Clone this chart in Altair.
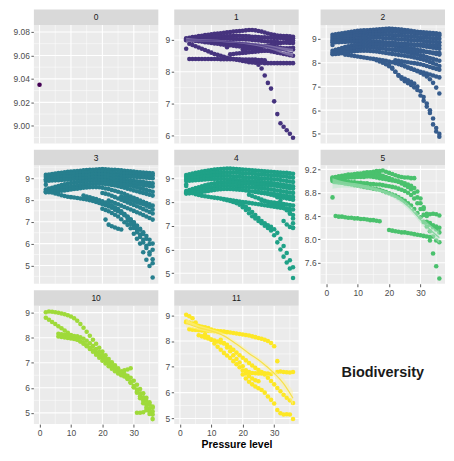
import altair as alt
import pandas as pd

# ---------------- categories / colours ----------------
PANEL_KEYS = ["0", "1", "2", "3", "4", "5", "10", "11"]
PANEL_COLORS = ["#440154", "#46337E", "#365C8D", "#277F8E", "#1FA187", "#4AC16D", "#9FDA3A", "#FDE725"]
RIBBON_COLORS = {"1": "#B1A7CB", "5": "#B9E6C7", "11": "#FCF2A6"}
SMOOTH_COLORS = {"1": "#5A4890", "5": "#86D6A0", "11": "#F7E14A"}

X_TICKS = [0, 10, 20, 30]
X_MINOR = [5, 15, 25, 35]
X_RANGE = [-1.8, 37.8]
X_TITLE = "Pressure level"
SIDE_LABEL = "Biodiversity"

Y_DOMAINS = {"0": [8.985, 9.086], "1": [5.75, 9.47], "2": [4.6, 9.59], "3": [4.16, 9.59],
             "4": [4.56, 9.54], "5": [7.24, 9.27], "10": [4.55, 9.28], "11": [4.78, 9.37]}
Y_TICKS = {"0": [9.00, 9.02, 9.04, 9.06, 9.08], "1": [6, 7, 8, 9], "2": [5, 6, 7, 8, 9],
           "3": [5, 6, 7, 8, 9], "4": [5, 6, 7, 8, 9], "5": [7.6, 8.0, 8.4, 8.8, 9.2],
           "10": [5, 6, 7, 8, 9], "11": [5, 6, 7, 8, 9]}
Y_MINOR = {"0": [8.99, 9.01, 9.03, 9.05, 9.07], "1": [6.5, 7.5, 8.5], "2": [5.5, 6.5, 7.5, 8.5, 9.5],
           "3": [4.5, 5.5, 6.5, 7.5, 8.5, 9.5], "4": [5.5, 6.5, 7.5, 8.5, 9.5],
           "5": [7.4, 7.8, 8.2, 8.6, 9.0], "10": [5.5, 6.5, 7.5, 8.5], "11": [5.5, 6.5, 7.5, 8.5]}
Y_FORMATS = {"0": ".2f", "5": ".1f"}

# ---------------- data: trajectories (start x, values at x, x+1, ...) ----------------
P0_LINES = []
P0_POINTS = [(0, 9.035)]

P1_LINES = [
    (2, [9.05, 9.07, 9.09, 9.10, 9.12, 9.13, 9.15, 9.16, 9.18, 9.19, 9.20, 9.21, 9.22, 9.24, 9.25, 9.26, 9.27, 9.28, 9.29, 9.30, 9.31, 9.31, 9.30, 9.28, 9.26, 9.23, 9.20, 9.18, 9.16, 9.14, 9.13, 9.12, 9.12, 9.11, 9.10]),
    (2, [9.02, 9.03, 9.04, 9.05, 9.06, 9.06, 9.07, 9.08, 9.08, 9.09, 9.10, 9.10, 9.11, 9.12, 9.12, 9.13, 9.13, 9.13, 9.12, 9.12, 9.11, 9.10, 9.10, 9.09, 9.08, 9.08, 9.07, 9.07, 9.06, 9.06, 9.06, 9.05, 9.05, 9.05, 9.05]),
    (2, [8.99, 8.99, 9.00, 9.00, 9.00, 9.01, 9.01, 9.01, 9.02, 9.02, 9.02, 9.02, 9.03, 9.03, 9.03, 9.03, 9.03, 9.02, 9.02, 9.01, 9.01, 9.00, 8.99, 8.98, 8.97, 8.96, 8.95, 8.95, 8.94, 8.93, 8.92, 8.92, 8.91, 8.90, 8.90]),
    (2, [9.00, 8.99, 8.98, 8.97, 8.97, 8.96, 8.95, 8.95, 8.94, 8.93, 8.92, 8.92, 8.91, 8.90, 8.90, 8.89, 8.88, 8.87, 8.87, 8.86, 8.85, 8.84, 8.83, 8.82, 8.81, 8.80, 8.79, 8.78, 8.77, 8.76, 8.75, 8.74, 8.73, 8.72, 8.70]),
    (2, [9.03, 9.01, 8.99, 8.98, 8.96, 8.95, 8.93, 8.92, 8.90, 8.89, 8.88, 8.86, 8.85, 8.84, 8.83, 8.82, 8.80, 8.79, 8.78, 8.76, 8.75, 8.74, 8.72, 8.71, 8.69, 8.67, 8.66, 8.64, 8.62, 8.60, 8.58, 8.56, 8.54, 8.52, 8.50]),
    (3, [8.88, 8.84, 8.80, 8.76, 8.72, 8.68, 8.64, 8.60, 8.56, 8.53, 8.50, 8.47, 8.44, 8.42, 8.40, 8.38, 8.36, 8.34, 8.32, 8.30, 8.29, 8.28, 8.28, 8.28, 8.27, 8.27, 8.27, 8.27, 8.27, 8.27, 8.27, 8.27, 8.27, 8.27]),
    (3, [8.40, 8.40, 8.40, 8.40, 8.40, 8.40, 8.40, 8.40, 8.40, 8.40, 8.39, 8.39, 8.39, 8.39, 8.39, 8.39, 8.39, 8.38, 8.38, 8.38, 8.38, 8.38, 8.37, 8.37, 8.36]),
    (25, [8.22, 8.10, 7.88, 7.65, 7.47, 7.07, 6.67, 6.38, 6.27, 6.16, 6.05, 5.93]),
    (16, [8.55, 8.56, 8.57, 8.58, 8.59, 8.60, 8.61, 8.62, 8.63, 8.64, 8.65, 8.66, 8.67, 8.68, 8.69, 8.70, 8.71, 8.72, 8.73, 8.74, 8.75]),
    (20, [8.70, 8.71, 8.72, 8.73, 8.74, 8.76, 8.78, 8.80, 8.82, 8.84, 8.86, 8.88, 8.90, 8.92, 8.94, 8.96, 8.98]),
]
P1_POINTS = [(2, 8.72), (15, 8.77)]

P2_LINES = [
    (2, [9.18, 9.20, 9.22, 9.24, 9.26, 9.28, 9.30, 9.32, 9.34, 9.35, 9.36, 9.37, 9.38, 9.39, 9.40, 9.41, 9.42, 9.43, 9.44, 9.43, 9.42, 9.41, 9.40, 9.38, 9.36, 9.34, 9.32, 9.30, 9.29, 9.28, 9.27, 9.26, 9.25, 9.24, 9.22]),
    (2, [9.08, 9.10, 9.12, 9.14, 9.16, 9.18, 9.20, 9.21, 9.22, 9.23, 9.24, 9.25, 9.26, 9.27, 9.28, 9.29, 9.30, 9.31, 9.32, 9.31, 9.30, 9.29, 9.28, 9.27, 9.26, 9.25, 9.24, 9.23, 9.22, 9.21, 9.20, 9.19, 9.18, 9.17, 9.15]),
    (2, [9.00, 9.02, 9.04, 9.06, 9.08, 9.10, 9.11, 9.12, 9.13, 9.14, 9.15, 9.16, 9.17, 9.18, 9.19, 9.19, 9.19, 9.18, 9.17, 9.16, 9.15, 9.14, 9.13, 9.12, 9.11, 9.10, 9.09, 9.08, 9.07, 9.06, 9.05, 9.04, 9.03, 9.02, 9.01]),
    (2, [8.92, 8.93, 8.94, 8.95, 8.96, 8.97, 8.98, 8.99, 9.00, 9.01, 9.02, 9.03, 9.04, 9.05, 9.05, 9.05, 9.04, 9.03, 9.02, 9.01, 9.00, 8.99, 8.98, 8.97, 8.96, 8.95, 8.94, 8.93, 8.92, 8.91, 8.90, 8.89, 8.88, 8.87, 8.86]),
    (2, [8.86, 8.86, 8.86, 8.87, 8.87, 8.88, 8.88, 8.89, 8.89, 8.90, 8.90, 8.90, 8.90, 8.90, 8.89, 8.88, 8.87, 8.86, 8.85, 8.84, 8.83, 8.82, 8.81, 8.80, 8.79, 8.77, 8.75, 8.73, 8.71, 8.69, 8.67, 8.65, 8.63, 8.61, 8.59]),
    (2, [8.50, 8.54, 8.58, 8.62, 8.66, 8.69, 8.72, 8.74, 8.76, 8.77, 8.78, 8.78, 8.78, 8.77, 8.76, 8.75, 8.74, 8.73, 8.72, 8.71, 8.70, 8.69, 8.67, 8.65, 8.63, 8.61, 8.58, 8.55, 8.52, 8.49, 8.46, 8.43, 8.40, 8.37, 8.34]),
    (2, [8.42, 8.44, 8.47, 8.50, 8.53, 8.56, 8.59, 8.61, 8.63, 8.64, 8.65, 8.65, 8.64, 8.63, 8.62, 8.61, 8.60, 8.58, 8.56, 8.54, 8.52, 8.50, 8.48, 8.46, 8.43, 8.40, 8.37, 8.34, 8.31, 8.28, 8.24, 8.20, 8.16, 8.12, 8.08]),
    (2, [8.36, 8.37, 8.38, 8.40, 8.42, 8.44, 8.46, 8.48, 8.49, 8.50, 8.50, 8.50, 8.49, 8.48, 8.47, 8.45, 8.43, 8.41, 8.39, 8.37, 8.35, 8.33, 8.31, 8.29, 8.27, 8.25, 8.22, 8.19, 8.16, 8.12, 8.08, 8.03, 7.98, 7.92, 7.86]),
    (6, [8.34, 8.32, 8.30, 8.28, 8.26, 8.24, 8.22, 8.20, 8.18, 8.16, 8.14, 8.12, 8.10, 8.08, 8.05, 8.02, 7.98, 7.94, 7.90, 7.85, 7.80, 7.75, 7.70, 7.66, 7.62, 7.58, 7.54, 7.50, 7.46, 7.42, 7.38]),
    (16, [8.10, 8.05, 8.00, 7.93, 7.85, 7.75, 7.62, 7.48, 7.38, 7.32, 7.26, 7.20, 7.12, 7.00, 6.80, 6.55, 6.28, 6.00, 5.65, 5.25, 4.88]),
    (20, [7.90, 7.78, 7.62, 7.45, 7.32, 7.22, 7.14, 7.06, 6.96, 6.85, 6.62, 6.40, 6.15, 5.88, 5.40, 5.10, 5.00]),
    (24, [7.90, 7.85, 7.80, 7.75, 7.70, 7.64, 7.58, 7.50, 7.42, 7.30, 7.15, 6.95, 6.70]),
    (20, [8.78, 8.78, 8.78, 8.78, 8.77, 8.77, 8.77, 8.76, 8.76, 8.76, 8.75, 8.75, 8.74, 8.74, 8.73, 8.73, 8.72]),
    (22, [8.55, 8.54, 8.53, 8.52, 8.51, 8.50, 8.49, 8.48, 8.47, 8.46, 8.45, 8.44, 8.43, 8.42, 8.41]),
    (22, [8.10, 8.08, 8.06, 8.04, 8.02, 8.00, 7.98, 7.96, 7.93, 7.90, 7.86, 7.82, 7.78, 7.74, 7.70]),
]
P2_POINTS = [(2, 8.75)]

P3_LINES = [
    (2, [9.15, 9.17, 9.19, 9.21, 9.23, 9.25, 9.27, 9.29, 9.30, 9.32, 9.33, 9.34, 9.36, 9.37, 9.38, 9.39, 9.40, 9.41, 9.42, 9.41, 9.40, 9.39, 9.38, 9.37, 9.36, 9.34, 9.33, 9.31, 9.30, 9.28, 9.27, 9.26, 9.25, 9.24, 9.22]),
    (2, [9.05, 9.07, 9.09, 9.11, 9.13, 9.15, 9.17, 9.18, 9.20, 9.21, 9.22, 9.24, 9.25, 9.26, 9.27, 9.28, 9.28, 9.29, 9.29, 9.28, 9.27, 9.26, 9.25, 9.24, 9.23, 9.22, 9.21, 9.20, 9.19, 9.18, 9.17, 9.16, 9.15, 9.14, 9.13]),
    (2, [8.95, 8.97, 8.99, 9.01, 9.03, 9.05, 9.06, 9.07, 9.08, 9.09, 9.10, 9.11, 9.12, 9.13, 9.14, 9.15, 9.15, 9.16, 9.16, 9.15, 9.14, 9.13, 9.12, 9.11, 9.10, 9.09, 9.08, 9.07, 9.06, 9.05, 9.04, 9.03, 9.02, 9.01, 9.00]),
    (2, [8.87, 8.88, 8.89, 8.90, 8.91, 8.92, 8.93, 8.94, 8.95, 8.96, 8.97, 8.98, 8.99, 9.00, 9.01, 9.02, 9.02, 9.02, 9.02, 9.01, 9.00, 8.99, 8.98, 8.97, 8.96, 8.94, 8.92, 8.90, 8.88, 8.86, 8.84, 8.82, 8.80, 8.78, 8.76]),
    (2, [8.48, 8.52, 8.56, 8.60, 8.64, 8.68, 8.72, 8.75, 8.78, 8.80, 8.82, 8.84, 8.86, 8.87, 8.88, 8.89, 8.90, 8.90, 8.89, 8.88, 8.87, 8.86, 8.85, 8.84, 8.82, 8.80, 8.78, 8.76, 8.74, 8.72, 8.70, 8.68, 8.66, 8.64, 8.62]),
    (2, [8.40, 8.43, 8.46, 8.49, 8.52, 8.55, 8.58, 8.60, 8.62, 8.64, 8.66, 8.68, 8.70, 8.72, 8.73, 8.74, 8.75, 8.75, 8.74, 8.73, 8.71, 8.69, 8.66, 8.63, 8.60, 8.56, 8.52, 8.48, 8.44, 8.40, 8.36, 8.32, 8.28, 8.24, 8.20]),
    (2, [8.35, 8.36, 8.37, 8.38, 8.40, 8.42, 8.44, 8.46, 8.48, 8.50, 8.52, 8.54, 8.56, 8.57, 8.58, 8.59, 8.59, 8.58, 8.56, 8.53, 8.50, 8.46, 8.42, 8.38, 8.33, 8.28, 8.22, 8.16, 8.10, 8.04, 7.98, 7.92, 7.86, 7.80, 7.74]),
    (4, [8.34, 8.30, 8.26, 8.22, 8.18, 8.15, 8.13, 8.11, 8.09, 8.07, 8.05, 8.02, 7.99, 7.95, 7.91, 7.86, 7.81, 7.76, 7.70, 7.64, 7.57, 7.50, 7.42, 7.34, 7.24, 7.12, 6.98, 6.82, 6.64, 6.44, 6.22, 5.98, 5.72]),
    (14, [8.20, 8.16, 8.12, 8.08, 8.04, 7.99, 7.94, 7.88, 7.82, 7.75, 7.67, 7.58, 7.48, 7.36, 7.22, 7.05, 6.86, 6.65, 6.42, 6.17, 5.90, 5.60, 5.28]),
    (20, [7.60, 7.54, 7.48, 7.40, 7.32, 7.24, 7.12, 6.98, 6.86, 6.70, 6.45, 6.22, 6.00, 5.60, 5.26, 4.97, 4.45]),
    (20, [8.32, 8.29, 8.25, 8.19, 8.13, 8.07, 8.01, 7.95, 7.89, 7.83, 7.77, 7.71, 7.65, 7.58, 7.52, 7.45, 7.38]),
    (22, [7.98, 7.92, 7.86, 7.80, 7.74, 7.68, 7.62, 7.56, 7.50, 7.44, 7.38, 7.31, 7.24, 7.17, 7.10]),
    (24, [7.55, 7.48, 7.40, 7.30, 7.20, 7.08, 6.95, 6.82, 6.68, 6.52, 6.35, 6.18, 6.00]),
    (28, [7.05, 6.90, 6.72, 6.52, 6.30, 6.05, 5.80, 5.50, 5.10]),
    (22, [8.80, 8.78, 8.76, 8.74, 8.72, 8.70, 8.68, 8.65, 8.62, 8.58, 8.54, 8.50, 8.46, 8.42, 8.38]),
    (26, [8.15, 8.10, 8.05, 8.00, 7.95, 7.90, 7.85, 7.80, 7.74, 7.68, 7.56]),
    (22, [6.87, 6.80, 6.74, 6.68, 6.65]),
]
P3_POINTS = [(2, 8.70), (21, 7.10)]

P4_LINES = [
    (2, [9.13, 9.16, 9.19, 9.22, 9.25, 9.28, 9.30, 9.32, 9.34, 9.36, 9.37, 9.38, 9.39, 9.40, 9.40, 9.39, 9.38, 9.37, 9.36, 9.35, 9.34, 9.33, 9.32, 9.31, 9.30, 9.29, 9.28, 9.27, 9.26, 9.25, 9.24, 9.23, 9.22, 9.20, 9.18]),
    (2, [9.05, 9.07, 9.09, 9.11, 9.13, 9.15, 9.17, 9.19, 9.21, 9.22, 9.23, 9.24, 9.25, 9.25, 9.25, 9.24, 9.23, 9.22, 9.21, 9.20, 9.19, 9.18, 9.17, 9.16, 9.15, 9.14, 9.13, 9.12, 9.11, 9.10, 9.09, 9.08, 9.06, 9.04, 9.02]),
    (2, [8.96, 8.98, 9.00, 9.02, 9.04, 9.06, 9.07, 9.08, 9.09, 9.10, 9.10, 9.10, 9.10, 9.10, 9.09, 9.08, 9.07, 9.06, 9.05, 9.04, 9.03, 9.02, 9.01, 9.00, 8.99, 8.98, 8.97, 8.96, 8.95, 8.94, 8.92, 8.90, 8.88, 8.86, 8.84]),
    (2, [8.88, 8.89, 8.90, 8.91, 8.92, 8.93, 8.94, 8.95, 8.96, 8.96, 8.96, 8.96, 8.96, 8.95, 8.94, 8.93, 8.92, 8.91, 8.90, 8.89, 8.88, 8.87, 8.86, 8.85, 8.84, 8.83, 8.82, 8.80, 8.78, 8.76, 8.74, 8.72, 8.70, 8.68, 8.66]),
    (2, [8.46, 8.50, 8.54, 8.58, 8.62, 8.66, 8.70, 8.73, 8.76, 8.78, 8.80, 8.81, 8.82, 8.82, 8.82, 8.81, 8.80, 8.79, 8.78, 8.77, 8.76, 8.75, 8.74, 8.73, 8.72, 8.71, 8.70, 8.69, 8.68, 8.66, 8.64, 8.62, 8.60, 8.58, 8.56]),
    (2, [8.40, 8.42, 8.45, 8.48, 8.51, 8.54, 8.57, 8.60, 8.62, 8.64, 8.66, 8.67, 8.68, 8.68, 8.68, 8.67, 8.66, 8.65, 8.64, 8.63, 8.62, 8.61, 8.60, 8.59, 8.58, 8.56, 8.54, 8.52, 8.50, 8.48, 8.46, 8.44, 8.42, 8.40, 8.38]),
    (2, [8.35, 8.36, 8.37, 8.38, 8.40, 8.42, 8.44, 8.46, 8.48, 8.50, 8.52, 8.53, 8.54, 8.54, 8.54, 8.53, 8.52, 8.51, 8.50, 8.48, 8.46, 8.44, 8.42, 8.40, 8.38, 8.36, 8.33, 8.30, 8.27, 8.24, 8.21, 8.18, 8.15, 8.12, 8.09]),
    (5, [8.32, 8.29, 8.26, 8.24, 8.22, 8.20, 8.18, 8.16, 8.14, 8.12, 8.10, 8.08, 8.06, 8.04, 8.02, 8.00, 7.98, 7.96, 7.94, 7.92, 7.90, 7.88, 7.86, 7.84, 7.82, 7.80, 7.78, 7.76, 7.74, 7.72, 7.70, 7.68]),
    (14, [8.10, 8.07, 8.04, 8.01, 7.98, 7.94, 7.88, 7.80, 7.70, 7.58, 7.45, 7.32, 7.20, 7.10, 7.02, 6.95, 6.85, 6.70, 6.45, 6.15, 5.85, 5.55, 5.25]),
    (17, [8.00, 7.95, 7.88, 7.78, 7.66, 7.52, 7.40, 7.30, 7.20, 7.10, 7.00, 6.90, 6.80, 6.60, 6.30, 6.00, 5.70, 5.45, 5.20, 4.80]),
    (30, [8.30, 8.20, 8.05, 7.90, 7.70, 7.50, 7.30]),
    (33, [7.20, 7.05, 6.95, 6.91]),
    (22, [8.30, 8.25, 8.20, 8.15, 8.10, 8.05, 8.00, 7.95, 7.90, 7.85, 7.80, 7.75, 7.65, 7.55, 7.45]),
    (24, [8.45, 8.43, 8.41, 8.39, 8.37, 8.35, 8.33, 8.31, 8.29, 8.27, 8.25, 8.23, 8.21]),
    (26, [8.05, 8.03, 8.01, 7.99, 7.97, 7.95, 7.93, 7.91, 7.89, 7.87, 7.85]),
]
P4_POINTS = [(2, 8.73), (2, 8.67), (36, 7.10), (36, 6.91)]

P5_LINES = [
    (2, [9.06, 9.07, 9.08, 9.09, 9.10, 9.11, 9.11, 9.12, 9.13, 9.13, 9.14, 9.15, 9.15, 9.16, 9.17, 9.17, 9.18, 9.16, 9.14, 9.12, 9.10, 9.08, 9.07, 9.06, 9.06, 9.05, 9.05]),
    (2, [9.05, 9.06, 9.06, 9.07, 9.08, 9.08, 9.09, 9.09, 9.10, 9.10, 9.11, 9.11, 9.12, 9.12, 9.12, 9.11, 9.09, 9.07, 9.05, 9.03, 9.01, 8.99, 8.96, 8.93, 8.90, 8.86, 8.80, 8.72, 8.62, 8.52, 8.44, 8.43, 8.44, 8.43, 8.41]),
    (2, [9.04, 9.04, 9.05, 9.05, 9.05, 9.06, 9.06, 9.06, 9.07, 9.07, 9.07, 9.08, 9.08, 9.07, 9.06, 9.05, 9.04, 9.03, 9.02, 9.01, 9.00, 8.99, 8.98, 8.96, 8.94, 8.92, 8.88, 8.82, 8.70, 8.55, 8.40, 8.28, 8.24, 8.22, 8.20]),
    (2, [9.02, 9.01, 9.00, 9.00, 8.99, 8.99, 8.98, 8.98, 8.97, 8.97, 8.96, 8.96, 8.95, 8.95, 8.94, 8.94, 8.93, 8.92, 8.91, 8.90, 8.89, 8.87, 8.85, 8.83, 8.80, 8.76, 8.70, 8.62, 8.52, 8.42, 8.30, 8.25, 8.21, 8.17, 8.12]),
    (2, [9.00, 8.99, 8.98, 8.97, 8.96, 8.95, 8.94, 8.93, 8.92, 8.91, 8.90, 8.89, 8.88, 8.87, 8.86, 8.85, 8.83, 8.81, 8.79, 8.77, 8.75, 8.72, 8.69, 8.66, 8.62, 8.58, 8.52, 8.45, 8.38, 8.30, 8.22, 8.14, 8.05, 7.98, 7.95]),
    (3, [8.40, 8.39, 8.39, 8.38, 8.37, 8.37, 8.36, 8.36, 8.35, 8.35, 8.34, 8.33, 8.33, 8.32, 8.31]),
    (20, [8.16, 8.15, 8.14, 8.13, 8.12, 8.12, 8.11, 8.10, 8.09, 8.08, 8.07, 8.06, 8.05, 8.04]),
    (33, [7.98, 7.76, 7.54, 7.33]),
]
P5_POINTS = [(2, 8.72)]

P10_LINES = [
    (2, [9.02, 9.05, 9.04, 9.02, 9.00, 8.97, 8.94, 8.90, 8.85, 8.78, 8.68, 8.55, 8.40, 8.24, 8.08, 7.92, 7.76, 7.60, 7.45, 7.30, 7.15, 7.02, 6.90, 6.78, 6.66, 6.52, 6.38, 6.20, 6.02, 5.84, 5.66, 5.48, 5.32, 5.18, 5.05]),
    (2, [8.80, 8.72, 8.63, 8.55, 8.46, 8.38, 8.29, 8.20, 8.11, 8.02, 7.93, 7.86, 7.79, 7.70, 7.60, 7.50, 7.40, 7.30, 7.20, 7.09, 6.98, 6.88, 6.78, 6.68, 6.58, 6.47, 6.35, 6.22, 6.08, 5.93, 5.78, 5.62, 5.47, 5.33, 5.20]),
    (6, [8.16, 8.14, 8.12, 8.10, 8.08, 8.07, 8.06, 8.02, 7.96, 7.88, 7.78, 7.67, 7.55, 7.43, 7.31, 7.18, 7.05, 6.92, 6.80, 6.70, 6.62, 6.55, 6.48, 6.40, 6.28, 6.12, 5.95, 5.78, 5.60, 5.42, 5.25]),
    (6, [8.05, 8.03, 8.01, 7.99, 7.97, 7.95, 7.92, 7.85, 7.76, 7.66, 7.55, 7.44, 7.32, 7.20, 7.08, 6.97, 6.86, 6.76, 6.66, 6.57, 6.50, 6.45, 6.38, 6.22, 6.02, 5.80, 5.58, 5.38, 5.20, 5.05, 4.93]),
    (27, [6.70, 6.73, 6.78]),
    (31, [5.00, 5.00, 5.02, 5.10, 4.95, 4.75]),
]
P10_POINTS = []

P11_LINES = [
    (2, [8.75, 8.72, 8.68, 8.63, 8.58, 8.54, 8.50, 8.47, 8.44, 8.41, 8.39, 8.38, 8.37, 8.35, 8.33, 8.31, 8.29, 8.27, 8.25, 8.23, 8.21, 8.18, 8.15, 8.12, 8.09, 8.05, 8.00, 7.92, 7.80]),
    (3, [8.46, 8.44, 8.43, 8.42, 8.41, 8.40, 8.40, 8.39, 8.38, 8.37, 8.36, 8.35, 8.34]),
    (2, [9.02, 8.96, 8.88, 8.72, 8.58, 8.55, 8.53, 8.50]),
    (6, [8.22, 8.18, 8.14, 8.10, 8.06, 8.02, 7.98, 7.94]),
    (8, [8.25, 8.15, 8.05, 7.90, 7.78, 7.66, 7.54, 7.44, 7.34, 7.22, 7.10, 6.98, 6.86, 6.74, 6.64, 6.55, 6.48, 6.44]),
    (20, [6.70, 6.55, 6.42, 6.32, 6.24, 6.17, 6.10, 6.00, 5.85, 5.72, 5.58, 5.33, 5.20, 5.15, 5.16, 5.15, 4.98]),
    (13, [8.05, 7.90, 7.75, 7.60, 7.45, 7.30, 7.17, 7.02, 6.87, 6.80, 6.76, 6.75, 6.74, 6.74, 6.75, 6.74, 6.72]),
    (31, [6.80, 6.82, 6.80, 6.79, 6.78, 6.80]),
    (14, [7.92, 7.85, 7.76, 7.66, 7.55, 7.45, 7.35, 7.25, 7.15, 7.05, 6.96, 6.88, 6.80, 6.70, 6.58, 6.45, 6.32, 6.18, 6.05, 5.92, 5.80, 5.70, 5.60]),
]
P11_POINTS = [(31, 7.22), (2, 8.73)]

# smooth fits (x, fit, lower, upper)
SMOOTH_X = [2, 6, 10, 14, 18, 22, 26, 30, 33, 36]
SMOOTH_1 = [9.00, 8.99, 8.98, 8.96, 8.93, 8.89, 8.83, 8.74, 8.66, 8.59]
SMOOTH_1_LO = [8.93, 8.95, 8.95, 8.93, 8.90, 8.85, 8.78, 8.67, 8.56, 8.46]
SMOOTH_1_HI = [9.07, 9.03, 9.01, 8.99, 8.96, 8.93, 8.88, 8.81, 8.76, 8.72]
SMOOTH_5 = [8.96, 8.94, 8.92, 8.88, 8.82, 8.73, 8.57, 8.34, 8.17, 8.03]
SMOOTH_5_LO = [8.87, 8.89, 8.88, 8.85, 8.79, 8.69, 8.52, 8.28, 8.09, 7.93]
SMOOTH_5_HI = [9.05, 8.99, 8.96, 8.91, 8.85, 8.77, 8.62, 8.40, 8.25, 8.13]
SMOOTH_11 = [8.68, 8.52, 8.39, 8.20, 7.88, 7.52, 7.18, 6.75, 6.35, 5.78]
SMOOTH_11_LO = [8.52, 8.43, 8.31, 8.10, 7.76, 7.42, 7.08, 6.62, 6.15, 5.50]
SMOOTH_11_HI = [8.84, 8.61, 8.47, 8.30, 7.99, 7.62, 7.28, 6.88, 6.55, 6.06]

PANEL_DATA = {
    "0": (P0_LINES, P0_POINTS), "1": (P1_LINES, P1_POINTS), "2": (P2_LINES, P2_POINTS),
    "3": (P3_LINES, P3_POINTS), "4": (P4_LINES, P4_POINTS), "5": (P5_LINES, P5_POINTS),
    "10": (P10_LINES, P10_POINTS), "11": (P11_LINES, P11_POINTS),
}
SMOOTHS = {"1": (SMOOTH_1, SMOOTH_1_LO, SMOOTH_1_HI), "5": (SMOOTH_5, SMOOTH_5_LO, SMOOTH_5_HI),
           "11": (SMOOTH_11, SMOOTH_11_LO, SMOOTH_11_HI)}

# ---------------- layout constants ----------------
W, H, STRIP = 125, 119, 15.5
FONT = "Liberation Sans"
DOT = 21


def points_frame(key):
    lines, singles = PANEL_DATA[key]
    xs, ys = [], []
    for start, vals in lines:
        for i, v in enumerate(vals):
            xs.append(start + i)
            ys.append(v)
    for x, y in singles:
        xs.append(x)
        ys.append(y)
    return pd.DataFrame({"x": xs, "y": ys})


def panel(key, extent, show_x=False, x_title=None):
    color = PANEL_COLORS[PANEL_KEYS.index(key)]
    xs = alt.Scale(domain=X_RANGE, nice=False, zero=False)
    ys = alt.Scale(domain=Y_DOMAINS[key], nice=False, zero=False)

    bg = alt.Chart(pd.DataFrame({"k": [key]})).mark_rect(color="#EBEBEB").encode(
        x=alt.value(0), x2=alt.value(W), y=alt.value(0), y2=alt.value(H))
    gx_minor = alt.Chart(pd.DataFrame({"v": X_MINOR})).mark_rule(color="white", strokeWidth=0.5).encode(
        x=alt.X("v:Q", scale=xs, axis=None))
    gx_major = alt.Chart(pd.DataFrame({"v": X_TICKS})).mark_rule(color="white", strokeWidth=1.1).encode(
        x=alt.X("v:Q", scale=xs, axis=None))
    gy_minor = alt.Chart(pd.DataFrame({"v": Y_MINOR[key]})).mark_rule(color="white", strokeWidth=0.5).encode(
        y=alt.Y("v:Q", scale=ys, axis=None))
    gy_major = alt.Chart(pd.DataFrame({"v": Y_TICKS[key]})).mark_rule(color="white", strokeWidth=1.1).encode(
        y=alt.Y("v:Q", scale=ys, axis=None))

    yaxis = alt.Axis(values=Y_TICKS[key], format=Y_FORMATS.get(key, "d"), title=None, orient="left",
                     minExtent=extent, maxExtent=extent)
    if show_x:
        if x_title:
            xaxis = alt.Axis(values=X_TICKS, format="d", title=x_title, labelFlush=False, orient="bottom",
                             titleFontSize=10.5, titleFontWeight="bold", titleColor="#000000",
                             titleFont=FONT, titlePadding=2, minExtent=12, maxExtent=16)
        else:
            xaxis = alt.Axis(values=X_TICKS, format="d", title=None, labelFlush=False, orient="bottom",
                             minExtent=12, maxExtent=16)
        xenc = alt.X("x:Q", scale=xs, axis=xaxis)
    else:
        xenc = alt.X("x:Q", scale=xs, axis=None)

    pts = alt.Chart(points_frame(key)).mark_circle(color=color, size=DOT, opacity=1).encode(
        x=xenc, y=alt.Y("y:Q", scale=ys, axis=yaxis))

    layers = [bg, gx_minor, gx_major, gy_minor, gy_major, pts]

    if key in SMOOTHS:
        fit, lo, hi = SMOOTHS[key]
        sdf = pd.DataFrame({"x": SMOOTH_X, "fit": fit, "lo": lo, "hi": hi})
        ribbon = alt.Chart(sdf).mark_area(color=RIBBON_COLORS[key], opacity=0.5,
                                          interpolate="monotone").encode(
            x=alt.X("x:Q", scale=xs, axis=None), y=alt.Y("lo:Q", scale=ys, axis=None), y2="hi:Q")
        sline = alt.Chart(sdf).mark_line(color=SMOOTH_COLORS[key], strokeWidth=1.2,
                                         interpolate="monotone").encode(
            x=alt.X("x:Q", scale=xs, axis=None), y=alt.Y("fit:Q", scale=ys, axis=None))
        layers += [ribbon, sline]

    sdf2 = pd.DataFrame({"label": [key]})
    strip = alt.Chart(sdf2).mark_rect(color="#D9D9D9").encode(
        x=alt.value(0), x2=alt.value(W), y=alt.value(-STRIP), y2=alt.value(0))
    strip_txt = alt.Chart(sdf2).mark_text(fontSize=8.5, color="#1A1A1A", baseline="middle",
                                          align="center", font=FONT).encode(
        x=alt.value(W / 2), y=alt.value(-STRIP / 2), text="label:N")
    layers += [strip, strip_txt]
    return alt.layer(*layers).resolve_axis(x="independent", y="independent").properties(width=W, height=H)


bio = alt.Chart(pd.DataFrame({"t": [SIDE_LABEL]})).mark_text(
    fontSize=14.5, fontWeight="bold", color="#1A1A1A", font=FONT, align="center", baseline="middle"
).encode(text="t:N", x=alt.value(W * 0.5), y=alt.value(H / 2 + 12)).properties(width=W, height=H)

col0 = alt.vconcat(panel("0", 24), panel("3", 24), panel("10", 24, show_x=True), spacing=5)
col1 = alt.vconcat(panel("1", 11), panel("4", 11), panel("11", 11, show_x=True, x_title=X_TITLE), spacing=5)
col2 = alt.vconcat(panel("2", 17), panel("5", 17, show_x=True), bio, spacing=5)

chart = alt.hconcat(col0, col1, col2, spacing=4).properties(
    padding={"left": 2, "top": 0, "right": 0, "bottom": 0}
).configure(font=FONT).configure_view(strokeWidth=0).configure_axis(
    labelFont=FONT, labelFontSize=8.5, labelColor="#4D4D4D", tickColor="#333333",
    tickWidth=0.8, tickSize=3, labelPadding=1.5, domain=False, grid=False
)

chart.save("out.html", embed_options={"renderer": "svg", "actions": False})
